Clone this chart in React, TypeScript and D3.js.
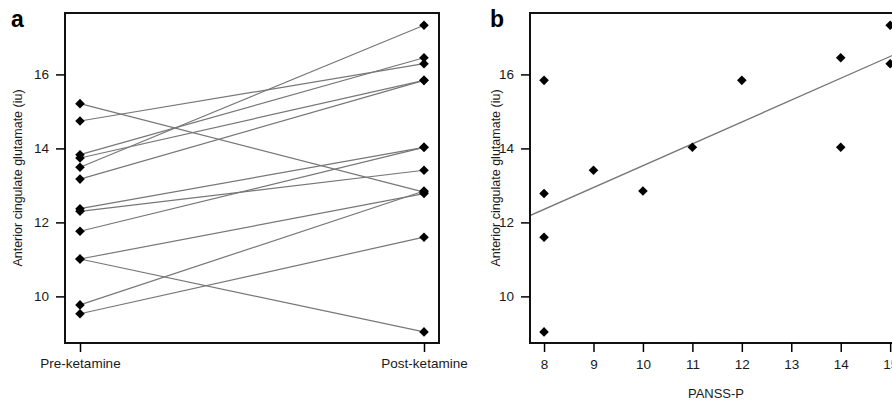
import React, { useRef, useEffect } from "react";
import * as d3 from "d3";

// panel a: paired glutamate values per subject
const groups = ["Pre-ketamine", "Post-ketamine"];
const preValues = [15.21, 14.74, 13.83, 13.74, 13.49, 13.17, 12.37, 12.3, 11.76, 11.01, 11.01, 9.77, 9.53];
const postValues = [12.82, 16.29, 16.45, 15.84, 17.33, 15.84, 14.03, 13.41, 14.03, 12.78, 9.04, 12.85, 11.6];

// panel b: PANSS-P vs post-ketamine glutamate
const panssP = [8, 8, 8, 8, 9, 10, 11, 12, 14, 14, 15, 15];
const postGlutamate = [15.84, 12.78, 11.6, 9.04, 13.41, 12.85, 14.03, 15.84, 16.45, 14.03, 17.33, 16.29];

const yTicks = [10, 12, 14, 16];
const panssTicks = [8, 9, 10, 11, 12, 13, 14, 15];

const yLabel = "Anterior cingulate glutamate (iu)";

const App = () => {
  const ref = useRef<SVGSVGElement>(null);
  const width = 892;
  const height = 407;

  useEffect(() => {
    const svg = d3.select(ref.current);
    svg.selectAll("*").remove();

    const font = "'Liberation Sans', Arial, sans-serif";
    const ink = "#1a1a1a";
    const top = 13;
    const bottom = 343;

    const y = d3.scaleLinear().domain([8.74, 17.66]).range([bottom, top]);
    const diamond = d3.symbol().type(d3.symbolSquare).size(46);

    const drawDiamonds = (g, pts) => {
      g.selectAll("path.pt")
        .data(pts)
        .join("path")
        .attr("class", "pt")
        .attr("d", diamond)
        .attr("transform", (d) => `translate(${d[0]},${d[1]}) rotate(45)`)
        .attr("fill", "#000");
    };

    const yAxis = (left) => {
      const ax = svg
        .append("g")
        .attr("transform", `translate(${left},0)`)
        .call(d3.axisLeft(y).tickValues(yTicks).tickSize(9).tickPadding(7).tickFormat(d3.format("d")));
      ax.select(".domain").remove();
      ax.selectAll("line").attr("stroke", "#000").attr("stroke-width", 1.5);
      ax.selectAll("text").attr("font-family", font).attr("font-size", 13.5).attr("fill", ink);
    };

    // ---------- panel a ----------
    const aLeft = 65;
    const aRight = 439;
    const x = d3.scalePoint().domain(groups).range([80, 424]);

    const ga = svg.append("g");
    ga.selectAll("line.pair")
      .data(preValues)
      .join("line")
      .attr("class", "pair")
      .attr("x1", x(groups[0]))
      .attr("y1", (d) => y(d))
      .attr("x2", x(groups[1]))
      .attr("y2", (d, i) => y(postValues[i]))
      .attr("stroke", "#777")
      .attr("stroke-width", 1.2);

    drawDiamonds(ga, [
      ...preValues.map((v) => [x(groups[0]), y(v)]),
      ...postValues.map((v) => [x(groups[1]), y(v)]),
    ]);

    svg
      .append("rect")
      .attr("x", aLeft)
      .attr("y", top)
      .attr("width", aRight - aLeft)
      .attr("height", bottom - top)
      .attr("fill", "none")
      .attr("stroke", "#111")
      .attr("stroke-width", 2);

    yAxis(aLeft);

    const xa = svg
      .append("g")
      .attr("transform", `translate(0,${bottom})`)
      .call(d3.axisBottom(x).tickSize(9).tickPadding(6));
    xa.select(".domain").remove();
    xa.selectAll("line").attr("stroke", "#000").attr("stroke-width", 1.5);
    xa.selectAll("text").attr("font-family", font).attr("font-size", 13.5).attr("fill", ink);

    svg
      .append("text")
      .attr("transform", `translate(22,${(top + bottom) / 2}) rotate(-90)`)
      .attr("text-anchor", "middle")
      .attr("font-family", font)
      .attr("font-size", 12.5)
      .attr("fill", ink)
      .text(yLabel);

    svg
      .append("text")
      .attr("x", 11)
      .attr("y", 27)
      .attr("font-family", font)
      .attr("font-weight", "bold")
      .attr("font-size", 23)
      .text("a");

    // ---------- panel b ----------
    const bLeft = 530;
    const bRight = 905;
    const xb = d3.scaleLinear().domain([7.716, 15.3]).range([bLeft, bRight]);

    svg
      .append("clipPath")
      .attr("id", "clipb")
      .append("rect")
      .attr("x", bLeft)
      .attr("y", top)
      .attr("width", bRight - bLeft)
      .attr("height", bottom - top);

    // least squares fit
    const mx = d3.mean(panssP);
    const my = d3.mean(postGlutamate);
    const sxy = d3.sum(panssP, (v, i) => (v - mx) * (postGlutamate[i] - my));
    const sxx = d3.sum(panssP, (v) => (v - mx) * (v - mx));
    const slope = sxy / sxx;
    const icpt = my - slope * mx;
    const [d0, d1] = xb.domain();

    const gb = svg.append("g").attr("clip-path", "url(#clipb)");
    gb.append("line")
      .attr("x1", xb(d0))
      .attr("y1", y(icpt + slope * d0))
      .attr("x2", xb(d1))
      .attr("y2", y(icpt + slope * d1))
      .attr("stroke", "#777")
      .attr("stroke-width", 1.3);

    drawDiamonds(
      svg.append("g"),
      panssP.map((v, i) => [xb(v), y(postGlutamate[i])])
    );

    svg
      .append("rect")
      .attr("x", bLeft)
      .attr("y", top)
      .attr("width", bRight - bLeft)
      .attr("height", bottom - top)
      .attr("fill", "none")
      .attr("stroke", "#111")
      .attr("stroke-width", 2);

    yAxis(bLeft);

    const xbAxis = svg
      .append("g")
      .attr("transform", `translate(0,${bottom})`)
      .call(d3.axisBottom(xb).tickValues(panssTicks).tickSize(9).tickPadding(7).tickFormat(d3.format("d")));
    xbAxis.select(".domain").remove();
    xbAxis.selectAll("line").attr("stroke", "#000").attr("stroke-width", 1.5);
    xbAxis.selectAll("text").attr("font-family", font).attr("font-size", 13.5).attr("fill", ink);

    svg
      .append("text")
      .attr("x", 716)
      .attr("y", 398)
      .attr("text-anchor", "middle")
      .attr("font-family", font)
      .attr("font-size", 13)
      .attr("fill", ink)
      .text("PANSS-P");

    svg
      .append("text")
      .attr("transform", `translate(500,${(top + bottom) / 2}) rotate(-90)`)
      .attr("text-anchor", "middle")
      .attr("font-family", font)
      .attr("font-size", 12.5)
      .attr("fill", ink)
      .text(yLabel);

    svg
      .append("text")
      .attr("x", 490)
      .attr("y", 27)
      .attr("font-family", font)
      .attr("font-weight", "bold")
      .attr("font-size", 23)
      .text("b");
  }, []);

  return (
    <svg
      ref={ref}
      width={width}
      height={height}
      style={{ position: "absolute", left: 0, top: 0, background: "#fff" }}
    />
  );
};

export default App;
